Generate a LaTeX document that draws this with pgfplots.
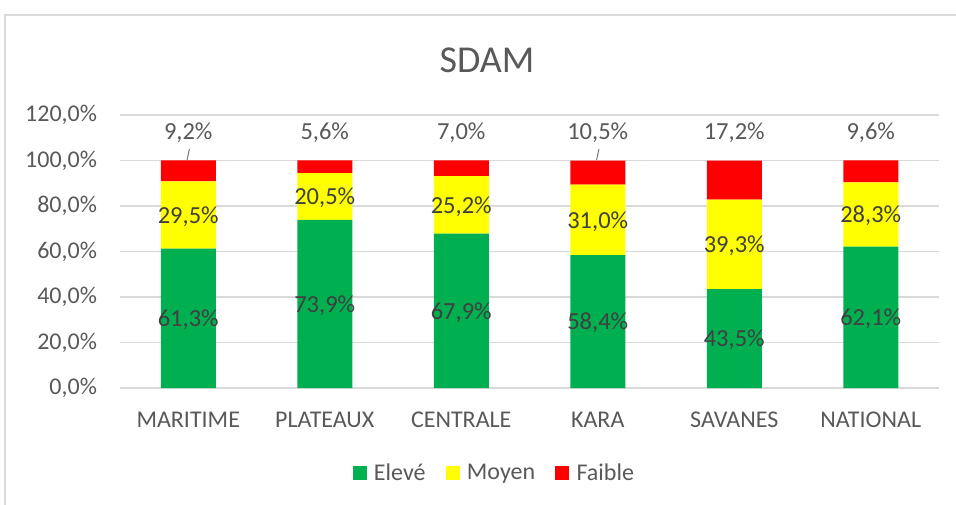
\documentclass[border=0pt]{standalone}
\usepackage{pgfplots}
\pgfplotsset{compat=1.18}
\usepackage{pgfplotstable}
\usepackage{fontspec}
\setmainfont{Carlito}
\definecolor{cgreen}{HTML}{00B050}
\definecolor{cyellow}{HTML}{FFFF00}
\definecolor{cred}{HTML}{FF0000}
\definecolor{ctext}{HTML}{595959}
\definecolor{cgrid}{HTML}{D9D9D9}
\definecolor{clab}{HTML}{404040}
\pgfplotstableread{
x G M F
0 61.3 29.5 9.2
1 73.9 20.5 5.6
2 67.9 25.2 7.0
3 58.4 31.0 10.5
4 43.5 39.3 17.2
5 62.1 28.3 9.6
}\data
\newcommand{\pct}[1]{\pgfmathprintnumber[fixed,fixed zerofill,precision=1,use comma,assume math mode=true]{#1}\%}
\begin{document}
\begin{tikzpicture}[x=1pt,y=1pt]
\useasboundingbox (0,0) rectangle (956,504);
\fill[white] (0,0) rectangle (956,504);
\draw[cgrid, line width=1.5pt] (5,-10) rectangle (990,489);
\node[font=\fontsize{38}{44}\selectfont, text=ctext] at (487,444) {SDAM};
\begin{axis}[
  at={(120pt,116pt)}, anchor=south west,
  scale only axis, width=819pt, height=273pt,
  ybar stacked, bar width=55pt,
  xmin=-0.5, xmax=5.5, ymin=0, ymax=120,
  xtick=data, xticklabels={MARITIME,PLATEAUX,CENTRALE,KARA,SAVANES,NATIONAL},
  ytick={0,20,...,120},
  ymajorgrids, grid style={cgrid, line width=1.5pt},
  axis line style={draw=none},
  major tick length=0pt,
  /pgf/number format/assume math mode=true,
  yticklabel={\pct{\tick}},
  yticklabel style={font=\fontsize{24}{28}\selectfont, text=ctext, xshift=-19.5pt},
  xticklabel style={font=\fontsize{24}{28}\selectfont, text=ctext, yshift=-21pt, text height=15pt, text depth=4pt},
  legend columns=3,
  legend style={at={(0.457,-0.311)}, anchor=center, draw=none, fill=none,
    font=\fontsize{24}{28}\selectfont, text=ctext,
    /tikz/every even column/.append style={column sep=18pt}},
  nodes near coords={\pct{\pgfplotspointmeta}},
]
\addplot[fill=cgreen, draw=none, forget plot,
  every node near coord/.append style={anchor=center, yshift=-1.5pt, font=\fontsize{24.5}{28}\selectfont, text=clab}]
  table[x=x,y=G]{\data};
\addplot[fill=cyellow, draw=none, forget plot,
  every node near coord/.append style={anchor=center, yshift=-1.5pt, font=\fontsize{24.5}{28}\selectfont, text=clab}]
  table[x=x,y=M]{\data};
\addplot[fill=cred, draw=none, forget plot,
  visualization depends on={\thisrow{F} \as \sv},
  every node near coord/.append style={anchor=center, yshift={(12.3+\sv/2)*2.275pt}, font=\fontsize{24.5}{28}\selectfont, text=ctext}]
  table[x=x,y=F]{\data};
\addlegendimage{legend image code/.code={\fill[cgreen] (0pt,-6.5pt) rectangle (13pt,6.5pt); \path (19pt,0pt);}}
\addlegendentry{Elevé}
\addlegendimage{legend image code/.code={\fill[cyellow] (0pt,-6.5pt) rectangle (13pt,6.5pt); \path (19pt,0pt);}}
\addlegendentry{Moyen}
\addlegendimage{legend image code/.code={\fill[cred] (0pt,-6.5pt) rectangle (13pt,6.5pt); \path (19pt,0pt);}}
\addlegendentry{Faible}
\draw[ctext!80, line width=1pt] (axis cs:-0.008,100.3) -- (axis cs:0.008,105);
\draw[ctext!80, line width=1pt] (axis cs:2.992,100.3) -- (axis cs:3.008,105);
\end{axis}
\end{tikzpicture}
\end{document}
